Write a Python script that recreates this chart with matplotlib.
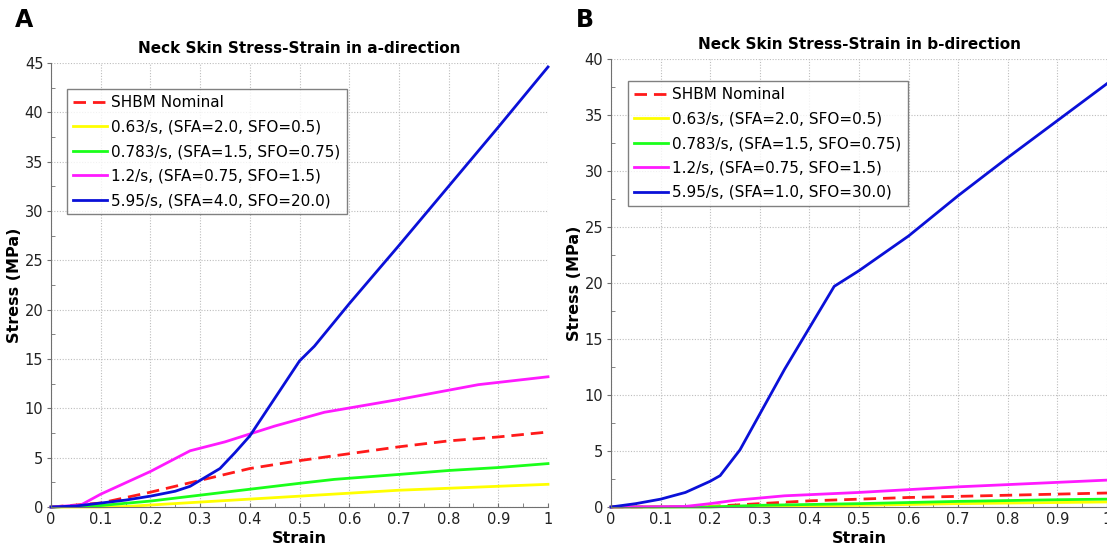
import numpy as np
import matplotlib
matplotlib.use('Agg')
import matplotlib.pyplot as plt
from matplotlib.ticker import MultipleLocator

# legend labels
labels_a = ['SHBM Nominal', '0.63/s, (SFA=2.0, SFO=0.5)', '0.783/s, (SFA=1.5, SFO=0.75)',
            '1.2/s, (SFA=0.75, SFO=1.5)', '5.95/s, (SFA=4.0, SFO=20.0)']
labels_b = ['SHBM Nominal', '0.63/s, (SFA=2.0, SFO=0.5)', '0.783/s, (SFA=1.5, SFO=0.75)',
            '1.2/s, (SFA=0.75, SFO=1.5)', '5.95/s, (SFA=1.0, SFO=30.0)']

# a-direction curves (strain, stress MPa)
a_nom_x = [0, 0.1, 0.2, 0.3, 0.4, 0.5, 0.6, 0.7, 0.8, 0.9, 1.0]
a_nom_y = [0, 0.4, 1.5, 2.7, 3.9, 4.7, 5.4, 6.1, 6.7, 7.1, 7.6]
a_063_x = [0, 0.1, 0.15, 0.2, 0.3, 0.4, 0.5, 0.6, 0.7, 0.8, 0.9, 1.0]
a_063_y = [0, 0.0, 0.05, 0.2, 0.5, 0.8, 1.1, 1.4, 1.7, 1.9, 2.1, 2.3]
a_078_x = [0, 0.1, 0.2, 0.3, 0.4, 0.5, 0.57, 0.7, 0.8, 0.9, 1.0]
a_078_y = [0, 0.15, 0.6, 1.2, 1.8, 2.4, 2.8, 3.3, 3.7, 4.0, 4.4]
a_12_x = [0, 0.06, 0.1, 0.2, 0.28, 0.35, 0.45, 0.55, 0.7, 0.86, 1.0]
a_12_y = [0, 0.2, 1.3, 3.6, 5.7, 6.6, 8.2, 9.6, 10.9, 12.4, 13.2]
a_595_x = [0, 0.05, 0.1, 0.15, 0.2, 0.25, 0.28, 0.3, 0.34, 0.37, 0.4, 0.45, 0.5, 0.53,
           0.6, 0.7, 0.8, 0.9, 1.0]
a_595_y = [0, 0.1, 0.4, 0.7, 1.1, 1.6, 2.1, 2.7, 3.9, 5.5, 7.2, 11.0, 14.8, 16.3,
           20.6, 26.5, 32.5, 38.5, 44.6]

# b-direction curves
b_nom_x = [0, 0.2, 0.3, 0.4, 0.5, 0.6, 0.7, 0.8, 0.9, 1.0]
b_nom_y = [0, 0.05, 0.3, 0.55, 0.7, 0.85, 0.95, 1.05, 1.15, 1.25]
b_063_x = [0, 0.3, 0.5, 0.7, 0.9, 1.0]
b_063_y = [0, 0.05, 0.15, 0.3, 0.4, 0.45]
b_078_x = [0, 0.2, 0.3, 0.5, 0.7, 0.9, 1.0]
b_078_y = [0, 0.0, 0.15, 0.3, 0.5, 0.65, 0.7]
b_12_x = [0, 0.15, 0.2, 0.25, 0.35, 0.5, 0.7, 0.85, 1.0]
b_12_y = [0, 0.05, 0.3, 0.6, 1.0, 1.3, 1.8, 2.1, 2.4]
b_595_x = [0, 0.05, 0.1, 0.15, 0.2, 0.22, 0.26, 0.3, 0.35, 0.4, 0.45, 0.5, 0.6, 0.7,
           0.8, 0.9, 1.0]
b_595_y = [0, 0.3, 0.7, 1.3, 2.3, 2.8, 5.1, 8.3, 12.3, 16.0, 19.7, 21.1, 24.2, 27.8,
           31.2, 34.5, 37.8]

colors = ['#ff1a1a', '#ffff00', '#1aff1a', '#ff1aff', '#0a10d8']


def draw_panel(ax, curves, labels, title, ymax, anchor, ylab_x):
    for i, (x, y) in enumerate(curves):
        if i == 0:
            ax.plot(x, y, color=colors[i], ls='--', dashes=(4.5, 2.5), lw=2.0,
                    label=labels[i], clip_on=False)
        else:
            ax.plot(x, y, color=colors[i], lw=2.0, label=labels[i], clip_on=False)
    ax.set_xlim(0, 1)
    ax.set_ylim(0, ymax)
    ax.set_xticks(np.arange(0, 1.01, 0.1))
    ax.set_xticklabels(['0', '0.1', '0.2', '0.3', '0.4', '0.5', '0.6', '0.7', '0.8', '0.9', '1'])
    ax.xaxis.set_minor_locator(MultipleLocator(0.05))
    ax.yaxis.set_major_locator(MultipleLocator(5))
    ax.yaxis.set_minor_locator(MultipleLocator(2.5))
    ax.grid(True, which='major', color='#bdbdbd', ls=(0, (1, 1.5)), lw=0.8)
    for s in ['top', 'right']:
        ax.spines[s].set_visible(False)
    for s in ['left', 'bottom']:
        ax.spines[s].set_color('#707070')
    ax.tick_params(which='both', colors='#707070', labelcolor='#222222', labelsize=10.5)
    ax.tick_params(axis='x', which='both', direction='in', length=3)
    ax.tick_params(axis='y', which='major', direction='out', length=3, pad=2.5)
    ax.tick_params(axis='y', which='minor', direction='in', length=3)
    ax.set_title(title, fontsize=11, fontweight='bold', pad=7)
    ax.set_xlabel('Strain', fontsize=11.5, fontweight='bold', labelpad=3)
    ax.set_ylabel('Stress (MPa)', fontsize=11.5, fontweight='bold')
    ax.yaxis.set_label_coords(ylab_x, 0.5)
    leg = ax.legend(loc='upper left', bbox_to_anchor=anchor, fontsize=11, frameon=True,
                    fancybox=False, edgecolor='#606060', handlelength=2.2,
                    handletextpad=0.3, borderpad=0.4, labelspacing=0.62, borderaxespad=0)
    leg.get_frame().set_linewidth(1.0)


fig = plt.figure(figsize=(11.07, 5.48), dpi=100)
ax1 = fig.add_axes([51 / 1107, 41 / 548, 497 / 1107, 444 / 548])
ax2 = fig.add_axes([611 / 1107, 41 / 548, 496 / 1107, 448 / 548])

draw_panel(ax1, [(a_nom_x, a_nom_y), (a_063_x, a_063_y), (a_078_x, a_078_y),
                 (a_12_x, a_12_y), (a_595_x, a_595_y)],
           labels_a, 'Neck Skin Stress-Strain in a-direction', 45, (0.032, 0.941), -0.058)
draw_panel(ax2, [(b_nom_x, b_nom_y), (b_063_x, b_063_y), (b_078_x, b_078_y),
                 (b_12_x, b_12_y), (b_595_x, b_595_y)],
           labels_b, 'Neck Skin Stress-Strain in b-direction', 40, (0.034, 0.951), -0.059)

fig.text(15 / 1107, 1 - 20 / 548, 'A', fontsize=17, fontweight='bold', va='center')
fig.text(576 / 1107, 1 - 20 / 548, 'B', fontsize=17, fontweight='bold', va='center')

fig.savefig('out.png', dpi=100)
